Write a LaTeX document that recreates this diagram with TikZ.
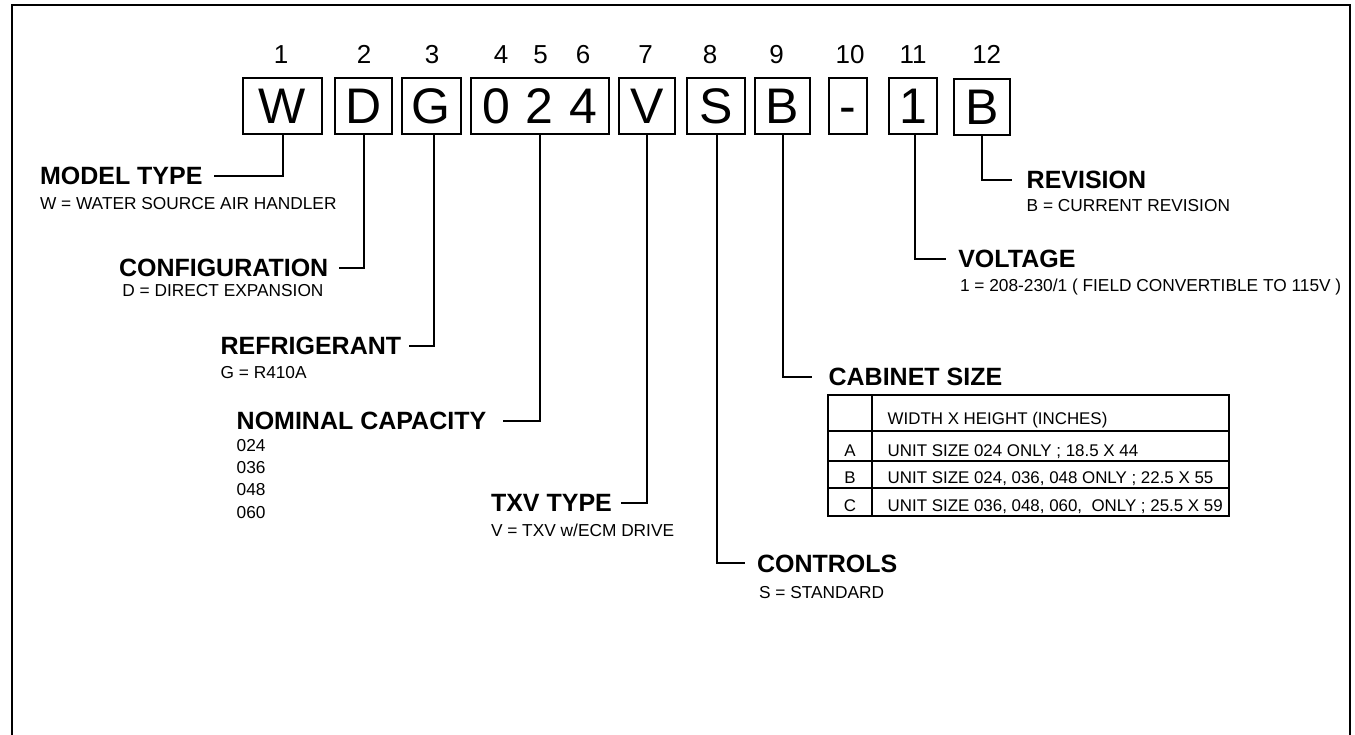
\documentclass[tikz,border=0pt]{standalone}
\usepackage{fontspec}
\setmainfont{Liberation Sans}
\begin{document}
\begin{tikzpicture}[x=1pt,y=-1pt,line width=2pt,
		digit/.style={draw,inner sep=0pt,minimum height=56.6pt,text height=35.8pt,text depth=0pt,font=\fontsize{50}{50}\selectfont},
		posnum/.style={anchor=base,inner sep=0pt,font=\fontsize{26}{26}\selectfont},
		head/.style={anchor=base west,inner sep=0pt,font=\fontsize{25}{25}\selectfont\bfseries},
		note/.style={anchor=base west,inner sep=0pt,font=\fontsize{17.3}{17.3}\selectfont},
		row/.style={anchor=base west,inner sep=0pt,font=\fontsize{16.9}{16.9}\selectfont},
		cell/.style={anchor=base,inner sep=0pt,font=\fontsize{16.9}{16.9}\selectfont}]
		\useasboundingbox (0,0) rectangle (1355,735);
		% frame
		\draw (12,745) -- (12,5) -- (1350,5) -- (1350,745);
		% model number
		\node[digit,minimum width=79pt] (bW) at (282.5,106) {W};
		\node[digit,minimum width=57pt] (bD) at (363.5,106) {D};
		\node[digit,minimum width=59pt] (bG) at (431.2,106) {G};
		\node[digit,minimum width=138.3pt] (bCap) at (539.9,106) {0\hspace{16pt}2\hspace{16pt}4};
		\node[digit,minimum width=56pt] (bV) at (647,106) {V};
		\node[digit,minimum width=58.3pt] (bS) at (715.9,106) {S};
		\node[digit,minimum width=55pt] (bB) at (782.5,106) {B};
		\node[digit,minimum width=38pt] (bDash) at (848,106) {-};
		\node[digit,minimum width=48.3pt] (bOne) at (912.9,106) {1};
		\node[digit,minimum width=56pt] (bRev) at (982,107) {B};
		\foreach \n/\x in {1/281,2/364,3/432,4/501,5/540.7,6/583,7/645.7,8/710,9/776.7,10/850,11/913,12/986.7}
		\node[posnum] (n\n) at (\x,64) {\n};
		% left side
		\node[head] (hMT) at (39,185) {MODEL TYPE};
		\node[note] (tMT) at (39,209.3) {W = WATER SOURCE AIR HANDLER};
		\node[head] (hCF) at (118,276.7) {CONFIGURATION};
		\node[note] (tCF) at (121.4,296.7) {D = DIRECT EXPANSION};
		\node[head] (hRF) at (219.6,355) {REFRIGERANT};
		\node[note] (tRF) at (219.6,378.3) {G = R410A};
		\node[head] (hNC) at (235.7,429.3) {NOMINAL CAPACITY};
		\foreach \c [count=\i] in {024,036,048,060}
		\node[note] (tNC\i) at (235.7,429.3+22.2*\i) {\c};
		\node[head] (hTX) at (490,511.7) {TXV TYPE};
		\node[note] (tTX) at (490,536.7) {V = TXV w/ECM DRIVE};
		% right side
		\node[head] (hCT) at (756,572) {CONTROLS};
		\node[note] (tCT) at (758,598) {S = STANDARD};
		\node[head] (hCB) at (827.6,385.5) {CABINET SIZE};
		\node[head] (hVT) at (957.3,268) {VOLTAGE};
		\node[note] (tVT) at (959,291.7) {1 = 208-230/1 ( FIELD CONVERTIBLE TO 115V )};
		\node[head] (hRV) at (1025.7,189) {REVISION};
		\node[note] (tRV) at (1025.7,211.7) {B = CURRENT REVISION};
		% leaders
		\draw (bW.south) |- ([xshift=10pt]hMT.east);
		\draw (bD.south) |- ([xshift=10pt]hCF.east);
		\draw ([xshift=2.5pt]bG.south) |- ([xshift=7pt]hRF.east);
		\draw (bCap.south) |- ([xshift=16pt]hNC.east);
		\draw (bV.south) |- ([xshift=8pt]hTX.east);
		\draw ([xshift=1.5pt]bS.south) |- ([xshift=-11pt]hCT.west);
		\draw (bB.south) |- ([xshift=-16pt]hCB.west);
		\draw ([xshift=2pt]bOne.south) |- ([xshift=-11pt]hVT.west);
		\draw (bRev.south) |- ([xshift=-14pt]hRV.west);
		% cabinet table
		\draw (828,395) rectangle (1229,516);
		\draw (872,395) -- (872,516);
		\draw (828,430.7) -- (1229,430.7) (828,460.7) -- (1229,460.7) (828,488) -- (1229,488);
		\node[row] (r0) at (886.7,424) {WIDTH X HEIGHT (INCHES)};
		\node[cell] (kA) at (850,456) {A};
		\node[row] (rA) at (886.7,456) {UNIT SIZE 024 ONLY ; 18.5 X 44};
		\node[cell] (kB) at (850,483.3) {B};
		\node[row] (rB) at (886.7,483.3) {UNIT SIZE 024, 036, 048 ONLY ; 22.5 X 55};
		\node[cell] (kC) at (850,511.7) {C};
		\node[row] (rC) at (886.7,511.7) {UNIT SIZE 036, 048, 060,\ \ ONLY ; 25.5 X 59};
	\end{tikzpicture}
\end{document}
